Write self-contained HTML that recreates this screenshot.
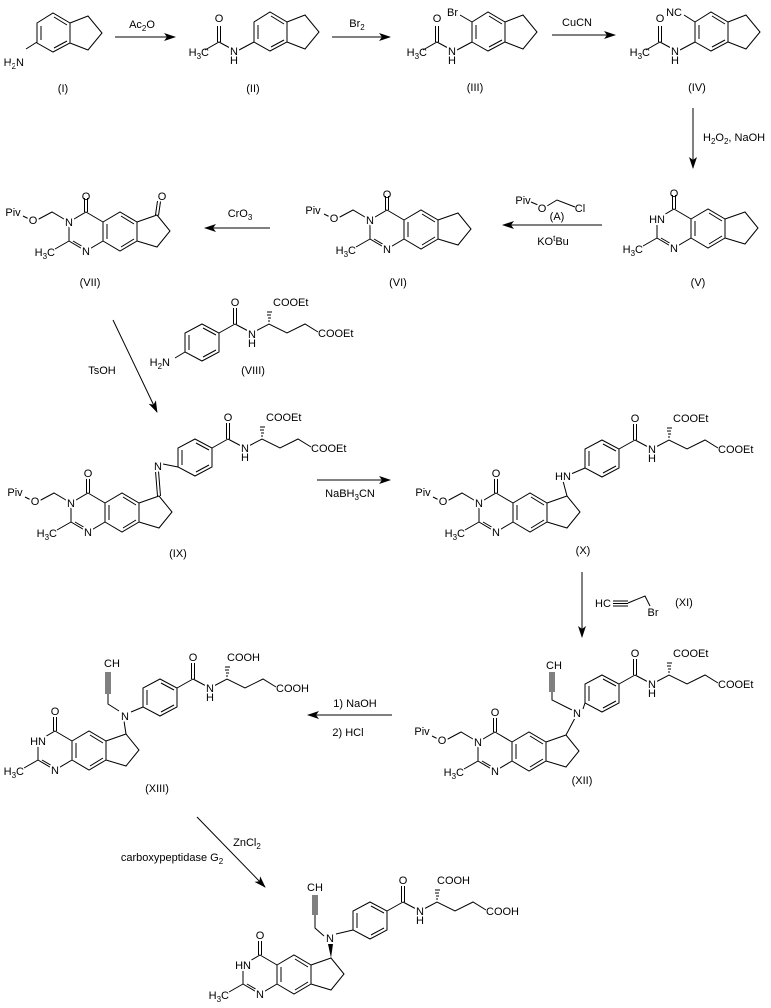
<!DOCTYPE html>
<html><head><meta charset="utf-8"><style>
html,body{margin:0;padding:0;background:#fff}
svg{display:block}
text{font-family:"Liberation Sans",Arial,sans-serif;font-size:11px;fill:#000}
.h{stroke:#fff;stroke-width:4;paint-order:stroke;stroke-linejoin:round}
.m{text-anchor:middle}.e{text-anchor:end}
.s{font-size:8px}
</style></head><body>
<svg width="771" height="1008" viewBox="0 0 771 1008" xmlns="http://www.w3.org/2000/svg">
<defs>
<marker id="ah" markerWidth="12" markerHeight="8" refX="11" refY="4" orient="auto" markerUnits="userSpaceOnUse">
<path d="M0,0 L12,4 L0,8 L3,4 Z" fill="#000"/></marker>
<g id="core" fill="none" stroke="#000" stroke-width="1">
<path d="M0,0 L17,10 L17,29 L0,39 L-17,29 L-17,10 Z"/>
<path d="M17,10 L34,0 L51,10 L51,29 L34,39 L17,29"/>
<path d="M21,12 L21,27 M35,4 L48,12 M48,27 L35,35 M-13,29 L-1,36"/>
<path d="M51,10 L71,3 L84,19 L71,35 L51,29"/>
<path d="M-1.5,0 L-1.5,-14 M1.5,0 L1.5,-14"/>
<path d="M-17,29 L-31,37"/>
</g>
<g id="piv" fill="none" stroke="#000" stroke-width="1"><path d="M-17,10 L-34,0 L-49,8"/><path d="M-57,7 L-63,4"/></g>
<g id="side" fill="none" stroke="#000" stroke-width="1">
<path d="M0,0 L0,-19 L17,-28 L34,-19 L34,0 L17,9 Z"/>
<path d="M4,-2 L4,-17 M18,-24 L31,-17 M31,-2 L18,5"/>
<path d="M34,-19 L50,-28 M48.5,-28 L48.5,-44 M51.5,-28 L51.5,-44"/>
<path d="M50,-28 L67,-19 L84,-28 L102,-19 L120,-28 L133,-20"/>
<path d="M83,-31 L85,-31 M83,-34 L86,-34 M82,-37 L86,-37 M82,-40 L87,-40"/>
</g>
<g id="ring" fill="none" stroke="#000" stroke-width="1">
<path d="M0,0 L16,-10 L33,0 L33,20 L16,29 L0,20 Z"/>
<path d="M4,3 L4,17 M17,-6 L30,2 M30,18 L17,25"/>
<path d="M33,0 L51,-7 L65,10 L51,27 L33,20"/>
</g>
<g id="amide" fill="none" stroke="#000" stroke-width="1">
<path d="M0,20 L-15,28"/><path d="M-24,26 L-35,20 L-49,28"/>
<path d="M-36.5,20 L-36.5,4 M-33.5,20 L-33.5,4"/>
</g>
</defs>

<g fill="none" stroke="#000" stroke-width="1">
<!-- arrows -->
<path d="M115,37 L175,37" marker-end="url(#ah)"/>
<path d="M332,37 L390,37" marker-end="url(#ah)"/>
<path d="M552,35 L615,35" marker-end="url(#ah)"/>
<path d="M693,108 L693,168" marker-end="url(#ah)"/>
<path d="M602,225 L503,225" marker-end="url(#ah)"/>
<path d="M270,228 L205,228" marker-end="url(#ah)"/>
<path d="M113,320 L157,412" marker-end="url(#ah)"/>
<path d="M317,480 L390,480" marker-end="url(#ah)"/>
<path d="M582,572 L582,637" marker-end="url(#ah)"/>
<path d="M392,715 L308,715" marker-end="url(#ah)"/>
<path d="M197,817 L265,887" marker-end="url(#ah)"/>
<!-- reagent A -->
<path d="M531,202 L538,205 M547,206 L557,200 L575,207"/>
<!-- XI -->
<path d="M613,601 L628,601 M613,603.5 L628,603.5 M613,606 L628,606 M628,603 L645,596 L650,606"/>
<!-- I H2N bond -->
<path d="M37,42 L26,49"/>
<!-- III Br, IV NC -->
<path d="M472,22 L460,15"/><path d="M695,22 L684,15"/>
<!-- VII ketone -->
<path d="M155.5,215 L157.5,201 M158.5,215.5 L160.5,201.5"/>
<!-- IX imine -->
<path d="M157.5,496 L155.5,471 M160.5,496 L158.5,471 M163,464 L178,467"/>
<!-- X -->
<path d="M567,496 L563,481 M571,474 L585,468"/>
<!-- XII -->
<path d="M566,735 L575,718 M583,709 L585,703 M572,710 L552,700 L552,692 M550,692 L550,672 M552,692 L552,672 M554,692 L554,672"/>
<!-- XIII -->
<path d="M126,734 L124,721 M131,712 L143,707 M119,711 L108,704 L108,694 M106,694 L106,672 M108,694 L108,672 M110,694 L110,672"/>
<!-- final -->
<path d="M336,934 L353,930 M324,936 L315,928 L315,915 M313,915 L313,895 M315,915 L315,895 M317,915 L317,895"/>
</g>
<path d="M331,958 L328,944 L333,944 Z" fill="#000"/>

<!-- I-IV -->
<use href="#ring" x="37" y="23"/>
<use href="#ring" x="254" y="22"/><use href="#amide" x="254" y="22"/>
<use href="#ring" x="472" y="22"/><use href="#amide" x="472" y="22"/>
<use href="#ring" x="695" y="22"/><use href="#amide" x="695" y="22"/>

<!-- cores -->
<use href="#core" x="674" y="209"/>
<use href="#core" x="387" y="210"/><use href="#piv" x="387" y="210"/>
<use href="#core" x="86" y="212"/><use href="#piv" x="86" y="212"/>
<use href="#core" x="88" y="493"/><use href="#piv" x="88" y="493"/>
<use href="#core" x="496" y="493"/><use href="#piv" x="496" y="493"/>
<use href="#core" x="495" y="732"/><use href="#piv" x="495" y="732"/>
<use href="#core" x="55" y="731"/>
<use href="#core" x="260" y="955"/>

<!-- side chains -->
<use href="#side" x="185" y="352"/>
<use href="#side" x="178" y="467"/>
<use href="#side" x="585" y="468"/>
<use href="#side" x="585" y="703"/>
<use href="#side" x="143" y="707"/>
<use href="#side" x="353" y="930"/>
<path d="M185,352 L175,358" stroke="#000" fill="none"/>

<!-- ===== TEXT ===== -->
<!-- I -->
<text x="24" y="66" class="e h">H<tspan class="s" dy="3">2</tspan><tspan dy="-3">N</tspan></text>
<text x="63" y="92" class="m">(I)</text>
<text x="142" y="28" class="m">Ac<tspan class="s" dy="3">2</tspan><tspan dy="-3">O</tspan></text>
<!-- II -->
<text x="219" y="22" class="m">O</text>
<text x="234" y="55" class="m h">N</text><text x="234" y="64" class="m">H</text>
<text x="209" y="56" class="e">H<tspan class="s" dy="3">3</tspan><tspan dy="-3">C</tspan></text>
<text x="253" y="92" class="m">(II)</text>
<text x="357" y="27" class="m">Br<tspan class="s" dy="3">2</tspan></text>
<!-- III -->
<text x="437" y="22" class="m">O</text>
<text x="452" y="55" class="m h">N</text><text x="452" y="64" class="m">H</text>
<text x="427" y="56" class="e">H<tspan class="s" dy="3">3</tspan><tspan dy="-3">C</tspan></text>
<text x="458" y="16" class="e">Br</text>
<text x="475" y="91" class="m">(III)</text>
<text x="577" y="26" class="m">CuCN</text>
<!-- IV -->
<text x="660" y="22" class="m">O</text>
<text x="675" y="55" class="m h">N</text><text x="675" y="64" class="m">H</text>
<text x="650" y="56" class="e">H<tspan class="s" dy="3">3</tspan><tspan dy="-3">C</tspan></text>
<text x="682" y="16" class="e">NC</text>
<text x="697" y="91" class="m">(IV)</text>
<text x="703" y="141">H<tspan class="s" dy="3">2</tspan><tspan dy="-3">O</tspan><tspan class="s" dy="3">2</tspan><tspan dy="-3">, NaOH</tspan></text>

<!-- V -->
<text x="674" y="197" class="m">O</text>
<text x="665" y="223" class="e h">HN</text>
<text x="674" y="252" class="m h">N</text>
<text x="643" y="253" class="e">H<tspan class="s" dy="3">3</tspan><tspan dy="-3">C</tspan></text>
<text x="698" y="286" class="m">(V)</text>
<!-- reagent A -->
<text x="523" y="204" class="m">Piv</text>
<text x="542" y="212" class="m h">O</text>
<text x="580" y="212" class="m">Cl</text>
<text x="557" y="220" class="m">(A)</text>
<text x="553" y="245" class="m">KO<tspan class="s" dy="-4">t</tspan><tspan dy="4">Bu</tspan></text>

<!-- VI -->
<text x="387" y="198" class="m">O</text>
<text x="370" y="224" class="m h">N</text>
<text x="387" y="253" class="m h">N</text>
<text x="356" y="254" class="e">H<tspan class="s" dy="3">3</tspan><tspan dy="-3">C</tspan></text>
<text x="334" y="222" class="m h">O</text>
<text x="313" y="214" class="m">Piv</text>
<text x="398" y="286" class="m">(VI)</text>
<text x="240" y="217" class="m">CrO<tspan class="s" dy="3">3</tspan></text>

<!-- VII -->
<text x="86" y="200" class="m">O</text>
<text x="69" y="226" class="m h">N</text>
<text x="86" y="255" class="m h">N</text>
<text x="55" y="256" class="e">H<tspan class="s" dy="3">3</tspan><tspan dy="-3">C</tspan></text>
<text x="33" y="224" class="m h">O</text>
<text x="13" y="216" class="m">Piv</text>
<text x="162" y="200" class="m">O</text>
<text x="90" y="286" class="m">(VII)</text>
<text x="102" y="374" class="m">TsOH</text>

<!-- VIII -->
<text x="170" y="366" class="e">H<tspan class="s" dy="3">2</tspan><tspan dy="-3">N</tspan></text>
<text x="235" y="306" class="m">O</text>
<text x="252" y="338" class="m h">N</text><text x="252" y="347" class="m">H</text>
<text x="273" y="306">COOEt</text>
<text x="318" y="337">COOEt</text>
<text x="253" y="374" class="m">(VIII)</text>

<!-- IX -->
<text x="88" y="477" class="m">O</text>
<text x="71" y="507" class="m h">N</text>
<text x="88" y="536" class="m h">N</text>
<text x="57" y="537" class="e">H<tspan class="s" dy="3">3</tspan><tspan dy="-3">C</tspan></text>
<text x="35" y="505" class="m h">O</text>
<text x="15" y="496" class="m">Piv</text>
<text x="158" y="470" class="m h">N</text>
<text x="228" y="421" class="m">O</text>
<text x="245" y="452" class="m h">N</text><text x="245" y="461" class="m">H</text>
<text x="266" y="421">COOEt</text>
<text x="311" y="452">COOEt</text>
<text x="178" y="557" class="m">(IX)</text>
<text x="350" y="497" class="m">NaBH<tspan class="s" dy="3">3</tspan><tspan dy="-3">CN</tspan></text>

<!-- X -->
<text x="496" y="477" class="m">O</text>
<text x="479" y="507" class="m h">N</text>
<text x="496" y="536" class="m h">N</text>
<text x="465" y="537" class="e">H<tspan class="s" dy="3">3</tspan><tspan dy="-3">C</tspan></text>
<text x="443" y="505" class="m h">O</text>
<text x="423" y="496" class="m">Piv</text>
<text x="563" y="480" class="m h">HN</text>
<text x="635" y="422" class="m">O</text>
<text x="652" y="453" class="m h">N</text><text x="652" y="462" class="m">H</text>
<text x="673" y="422">COOEt</text>
<text x="718" y="453">COOEt</text>
<text x="583" y="554" class="m">(X)</text>

<!-- XI -->
<text x="603" y="607" class="m">HC</text>
<text x="653" y="616" class="m">Br</text>
<text x="684" y="606" class="m">(XI)</text>

<!-- XII -->
<text x="495" y="716" class="m">O</text>
<text x="478" y="746" class="m h">N</text>
<text x="495" y="775" class="m h">N</text>
<text x="464" y="776" class="e">H<tspan class="s" dy="3">3</tspan><tspan dy="-3">C</tspan></text>
<text x="442" y="744" class="m h">O</text>
<text x="422" y="735" class="m">Piv</text>
<text x="577" y="717" class="m h">N</text>
<text x="554" y="669" class="m">CH</text>
<text x="635" y="657" class="m">O</text>
<text x="652" y="688" class="m h">N</text><text x="652" y="697" class="m">H</text>
<text x="673" y="657">COOEt</text>
<text x="718" y="688">COOEt</text>
<text x="582" y="784" class="m">(XII)</text>
<text x="355" y="707" class="m">1) NaOH</text>
<text x="348" y="736" class="m">2) HCl</text>

<!-- XIII -->
<text x="55" y="715" class="m">O</text>
<text x="46" y="745" class="e h">HN</text>
<text x="55" y="774" class="m h">N</text>
<text x="24" y="775" class="e">H<tspan class="s" dy="3">3</tspan><tspan dy="-3">C</tspan></text>
<text x="125" y="720" class="m h">N</text>
<text x="112" y="667" class="m">CH</text>
<text x="193" y="661" class="m">O</text>
<text x="210" y="692" class="m h">N</text><text x="210" y="701" class="m">H</text>
<text x="227" y="661">COOH</text>
<text x="276" y="692">COOH</text>
<text x="157" y="792" class="m">(XIII)</text>
<text x="247" y="846" class="m">ZnCl<tspan class="s" dy="3">2</tspan></text>
<text x="172" y="861" class="m">carboxypeptidase G<tspan class="s" dy="3">2</tspan></text>

<!-- final -->
<text x="260" y="939" class="m">O</text>
<text x="251" y="969" class="e h">HN</text>
<text x="260" y="998" class="m h">N</text>
<text x="229" y="999" class="e">H<tspan class="s" dy="3">3</tspan><tspan dy="-3">C</tspan></text>
<text x="330" y="942" class="m h">N</text>
<text x="315" y="891" class="m">CH</text>
<text x="403" y="884" class="m">O</text>
<text x="420" y="915" class="m h">N</text><text x="420" y="924" class="m">H</text>
<text x="437" y="884">COOH</text>
<text x="486" y="915">COOH</text>
</svg>
</body></html>
